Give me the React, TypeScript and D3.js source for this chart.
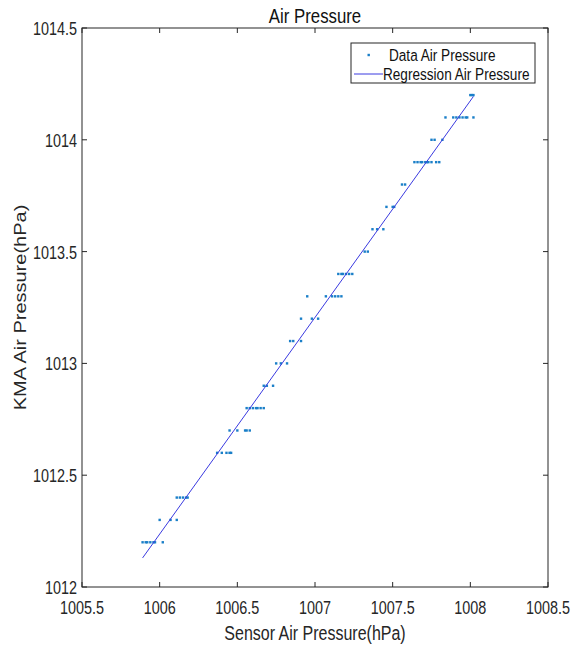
import * as d3 from "d3";

// sensor (x) / KMA (y) readings, grouped by KMA level
const kmaLevels = [1012.2, 1012.3, 1012.4, 1012.6, 1012.7, 1012.8, 1012.9, 1013.0, 1013.1, 1013.2, 1013.3, 1013.4, 1013.5, 1013.6, 1013.7, 1013.8, 1013.9, 1014.0, 1014.1, 1014.2];
const sensorByLevel: number[][] = [
  [1005.89, 1005.91, 1005.92, 1005.94, 1005.96, 1005.97, 1006.02],
  [1006.0, 1006.07, 1006.11],
  [1006.11, 1006.13, 1006.15, 1006.17, 1006.18],
  [1006.37, 1006.4, 1006.43, 1006.45, 1006.46],
  [1006.45, 1006.5, 1006.55, 1006.56, 1006.58],
  [1006.56, 1006.58, 1006.6, 1006.62, 1006.63, 1006.65, 1006.67],
  [1006.67, 1006.69, 1006.73],
  [1006.75, 1006.78, 1006.82],
  [1006.84, 1006.86, 1006.91],
  [1006.91, 1006.98, 1007.02],
  [1006.95, 1007.07, 1007.11, 1007.13, 1007.15, 1007.17],
  [1007.15, 1007.17, 1007.18, 1007.2, 1007.22, 1007.24],
  [1007.32, 1007.34],
  [1007.37, 1007.4, 1007.44],
  [1007.46, 1007.5, 1007.51],
  [1007.56, 1007.58],
  [1007.64, 1007.66, 1007.68, 1007.69, 1007.71, 1007.72, 1007.73, 1007.75, 1007.78, 1007.8],
  [1007.75, 1007.77, 1007.82],
  [1007.84, 1007.89, 1007.91, 1007.93, 1007.95, 1007.97, 1007.98, 1008.02],
  [1008.0, 1008.01, 1008.02],
];

// fitted line
const regSlope = 0.969;
const regIntercept = 1012.13 - 0.969 * 1005.89;
const regRange = [1005.89, 1008.02];

const xTicks = [1005.5, 1006, 1006.5, 1007, 1007.5, 1008, 1008.5];
const yTicks = [1012, 1012.5, 1013, 1013.5, 1014, 1014.5];
const xTickLabels = ["1005.5", "1006", "1006.5", "1007", "1007.5", "1008", "1008.5"];
const yTickLabels = ["1012", "1012.5", "1013", "1013.5", "1014", "1014.5"];

// the source image is squeezed horizontally, so text is narrowed
const squeeze = 0.8;

function Txt({ x, y, size, anchor = "start", fill = "#262626", children }: any) {
  return (
    <text transform={`translate(${x},${y}) scale(${squeeze},1)`} textAnchor={anchor} fontSize={size} fill={fill}>
      {children}
    </text>
  );
}

export default function App() {
  const width = 571;
  const height = 645;
  const m = { top: 28, right: 23, bottom: 58, left: 82 };
  const innerW = width - m.left - m.right;
  const innerH = height - m.top - m.bottom;

  const x = d3.scaleLinear().domain([1005.5, 1008.5]).range([0, innerW]);
  const y = d3.scaleLinear().domain([1012, 1014.5]).range([innerH, 0]);

  const points = kmaLevels.flatMap((lv, i) => sensorByLevel[i].map((s) => ({ s, k: lv })));
  const regLine = d3
    .line<number>()
    .x((d) => x(d))
    .y((d) => y(regSlope * d + regIntercept))(regRange);

  const font = "'Liberation Sans', Arial, sans-serif";
  const axisCol = "#262626";
  const tick = 5;

  return (
    <svg width={width} height={height} style={{ position: "absolute", left: 0, top: 0, background: "#fff" }} fontFamily={font}>
      <Txt x={m.left + innerW / 2} y={23} size={21} anchor="middle" fill="#111">
        Air Pressure
      </Txt>
      <g transform={`translate(${m.left},${m.top})`}>
        <rect x={0} y={0} width={innerW} height={innerH} fill="none" stroke={axisCol} strokeWidth={1} />
        {xTicks.map((t, i) => (
          <g key={`x${t}`}>
            <line x1={x(t)} x2={x(t)} y1={innerH} y2={innerH - tick} stroke={axisCol} />
            <line x1={x(t)} x2={x(t)} y1={0} y2={tick} stroke={axisCol} />
            <Txt x={x(t)} y={innerH + 27} size={18} anchor="middle">
              {xTickLabels[i]}
            </Txt>
          </g>
        ))}
        {yTicks.map((t, i) => (
          <g key={`y${t}`}>
            <line x1={0} x2={tick} y1={y(t)} y2={y(t)} stroke={axisCol} />
            <line x1={innerW} x2={innerW - tick} y1={y(t)} y2={y(t)} stroke={axisCol} />
            <Txt x={-5} y={y(t) + 7} size={18} anchor="end">
              {yTickLabels[i]}
            </Txt>
          </g>
        ))}
        {points.map((p, i) => (
          <rect key={i} x={x(p.s) - 1.2} y={y(p.k) - 1.2} width={2.4} height={2.4} fill="#1a7fc8" />
        ))}
        <path d={regLine ?? ""} fill="none" stroke="#3a3ae0" strokeWidth={1} />
      </g>
      <Txt x={m.left + innerW / 2} y={640} size={20} anchor="middle">
        Sensor Air Pressure(hPa)
      </Txt>
      <text
        transform={`translate(26,${m.top + innerH / 2}) rotate(-90) scale(1,${squeeze})`}
        textAnchor="middle"
        fontSize={20}
        fill={axisCol}
      >
        KMA Air Pressure(hPa)
      </text>
      <g transform="translate(351,43)">
        <rect x={0} y={0} width={184} height={40} fill="#fff" stroke={axisCol} strokeWidth={1} />
        <rect x={16.5} y={10.8} width={2.4} height={2.4} fill="#1a7fc8" />
        <Txt x={38} y={18} size={17} fill="#111">
          Data Air Pressure
        </Txt>
        <line x1={3} x2={32} y1={31} y2={31} stroke="#3a3ae0" />
        <Txt x={32} y={37} size={17} fill="#111">
          Regression Air Pressure
        </Txt>
      </g>
    </svg>
  );
}
